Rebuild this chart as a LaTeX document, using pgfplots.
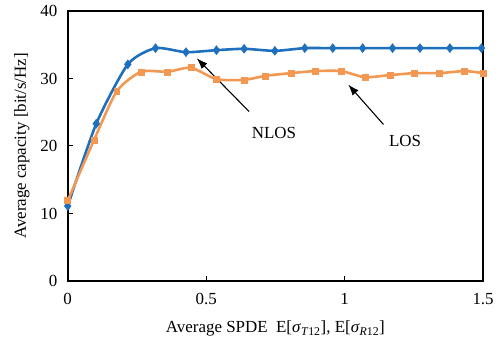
\documentclass[border=0pt]{standalone}
\usepackage{fontspec}
\setmainfont{Liberation Serif}
\usepackage{pgfplots}
\usetikzlibrary{arrows.meta}
\pgfplotsset{compat=1.18}
\definecolor{nlosblue}{RGB}{30,112,190}
\definecolor{losorange}{RGB}{242,152,82}
\begin{document}
\fontsize{16}{19}\selectfont
\begin{tikzpicture}
\begin{axis}[
  name=ax,
  scale only axis,
  width=417pt, height=271pt,
  xmin=0, xmax=1.5, ymin=0, ymax=40,
  xtick={0,0.5,1,1.5}, ytick={0,10,20,30,40},
  xticklabels={0,0.5,1,1.5},
  tick align=inside,
  xtick pos=bottom, ytick pos=left,
  major tick length=5pt,
  every tick/.style={black, line width=1pt},
  axis line style={black, line width=1.6pt},
  /pgf/number format/assume math mode=true,
  tick label style={font=\fontsize{17}{20}\selectfont},
  xticklabel style={yshift=-7pt},
  yticklabel style={xshift=-5pt},
  label style={font=\fontsize{17}{20}\selectfont},
  xlabel={Average SPDE\ \ E[\textit{σ}\textsubscript{\textit{T}12}],\ E[\textit{σ}\textsubscript{\textit{R}12}]},
  ylabel={Average capacity [bit/s/Hz]},
  xlabel style={yshift=-5pt},
  ylabel style={yshift=0pt},
  clip=false,
]
\addplot[color=nlosblue, line width=2.6pt, smooth, tension=0.4, mark=diamond*, mark size=4.5pt, mark options={solid, fill=nlosblue, line width=0.5pt}] coordinates {
(0,11.1) (0.103,23.3) (0.217,32.1) (0.317,34.5) (0.427,33.9) (0.537,34.2) (0.637,34.4) (0.748,34.1) (0.856,34.5) (0.957,34.5) (1.065,34.5) (1.173,34.5) (1.272,34.5) (1.38,34.5) (1.494,34.5)
};
\addplot[color=losorange, line width=2.6pt, smooth, tension=0.4, mark=square*, mark size=3pt, mark options={solid, fill=losorange, line width=0.5pt}] coordinates {
(0,11.9) (0.094,20.8) (0.177,28.1) (0.265,31.0) (0.361,31.0) (0.445,31.6) (0.537,29.9) (0.637,29.8) (0.714,30.4) (0.807,30.8) (0.894,31.1) (0.987,31.1) (1.073,30.2) (1.163,30.5) (1.253,30.8) (1.343,30.8) (1.433,31.1) (1.5,30.8)
};
\draw[-{Latex[length=11pt,width=8pt]}, line width=1.1pt] (axis cs:0.655,25.1) -- (axis cs:0.466,33.0);
\draw[-{Latex[length=11pt,width=8pt]}, line width=1.1pt] (axis cs:1.140,23.2) -- (axis cs:1.013,29.1);
\node[font=\fontsize{17}{20}\selectfont] at (axis cs:0.745,22.0) {NLOS};
\node[font=\fontsize{17}{20}\selectfont] at (axis cs:1.218,20.7) {LOS};
\end{axis}
\path[use as bounding box] ([xshift=-68pt,yshift=-68pt]ax.south west) rectangle ([xshift=14pt,yshift=11pt]ax.north east);
\end{tikzpicture}
\end{document}
